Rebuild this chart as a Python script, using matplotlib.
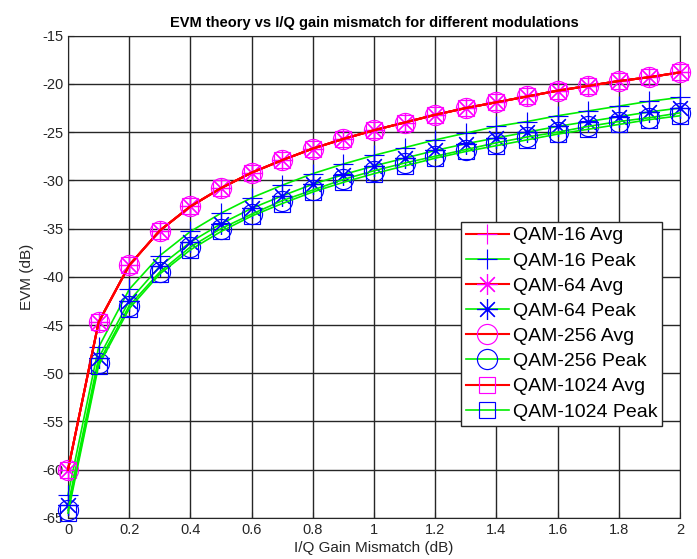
import matplotlib.pyplot as plt

# I/Q gain mismatch (dB)
mismatch = [0.0, 0.1, 0.2, 0.3, 0.4, 0.5, 0.6, 0.7, 0.8, 0.9, 1.0,
            1.1, 1.2, 1.3, 1.4, 1.5, 1.6, 1.7, 1.8, 1.9, 2.0]

# average EVM is the same for every QAM order
evm_avg = [-60.0, -44.7, -38.8, -35.2, -32.7, -30.8, -29.2, -27.9, -26.7, -25.7, -24.8,
           -24.0, -23.2, -22.5, -21.9, -21.3, -20.7, -20.2, -19.7, -19.3, -18.8]

evm_peak_16 = [-62.6, -47.3, -41.3, -37.8, -35.3, -33.4, -31.8, -30.5, -29.3, -28.3, -27.4,
               -26.6, -25.8, -25.1, -24.4, -23.9, -23.3, -22.8, -22.3, -21.8, -21.4]
evm_peak_64 = [-63.7, -48.4, -42.5, -38.9, -36.4, -34.5, -32.9, -31.6, -30.4, -29.4, -28.5,
               -27.7, -26.9, -26.2, -25.6, -25.0, -24.4, -23.9, -23.4, -22.9, -22.5]
evm_peak_256 = [-64.2, -48.9, -43.0, -39.5, -36.9, -35.0, -33.5, -32.1, -31.0, -29.9, -29.0,
                -28.2, -27.5, -26.8, -26.1, -25.5, -25.0, -24.4, -23.9, -23.5, -23.0]
evm_peak_1024 = [-64.5, -49.2, -43.3, -39.7, -37.2, -35.3, -33.7, -32.4, -31.2, -30.2, -29.3,
                 -28.5, -27.7, -27.0, -26.4, -25.8, -25.2, -24.7, -24.2, -23.7, -23.3]

ASTERISK = (8, 2, 0)  # matlab style '*' (plus + cross)

series = [
    ("QAM-16 Avg", evm_avg, "+", "avg"),
    ("QAM-16 Peak", evm_peak_16, "+", "peak"),
    ("QAM-64 Avg", evm_avg, ASTERISK, "avg"),
    ("QAM-64 Peak", evm_peak_64, ASTERISK, "peak"),
    ("QAM-256 Avg", evm_avg, "o", "avg"),
    ("QAM-256 Peak", evm_peak_256, "o", "peak"),
    ("QAM-1024 Avg", evm_avg, "s", "avg"),
    ("QAM-1024 Peak", evm_peak_1024, "s", "peak"),
]
marker_sizes = {"+": 15, "o": 14.5, "s": 12}

x_ticks = [0, 0.2, 0.4, 0.6, 0.8, 1.0, 1.2, 1.4, 1.6, 1.8, 2.0]
x_tick_labels = ["0", "0.2", "0.4", "0.6", "0.8", "1", "1.2", "1.4", "1.6", "1.8", "2"]
y_ticks = [-65, -60, -55, -50, -45, -40, -35, -30, -25, -20, -15]

plt.rcParams['font.family'] = ['Liberation Sans', 'DejaVu Sans']
plt.rcParams['axes.unicode_minus'] = False

fig = plt.figure(figsize=(6.97, 5.59), dpi=100)
ax = fig.add_axes([0.0976, 0.0735, 0.878, 0.8626])

for label, vals, marker, kind in series:
    if kind == "avg":
        line_color, mark_color, lw = "#ff0000", "#ff00ff", 1.5
    else:
        line_color, mark_color, lw = "#00ee00", "#0000ff", 1.2
    ms = marker_sizes.get(marker, 15)
    ax.plot(mismatch, vals, color=line_color, linewidth=lw, marker=marker,
            markersize=ms, markeredgecolor=mark_color, markerfacecolor="none",
            markeredgewidth=0.85, label=label, clip_on=False, zorder=3)

ax.set_xlim(0, 2)
ax.set_ylim(-65, -15)
ax.set_xticks(x_ticks)
ax.set_xticklabels(x_tick_labels)
ax.set_yticks(y_ticks)
ax.tick_params(direction="in", labelsize=10.5, length=4, colors="#262626",
               labelcolor="#262626")
ax.grid(True, color="#262626", linewidth=1.0)
ax.set_axisbelow(True)
for sp in ax.spines.values():
    sp.set_color("#262626")

ax.set_title("EVM theory vs I/Q gain mismatch for different modulations",
             fontsize=10.5, fontweight="bold", pad=6)
ax.set_xlabel("I/Q Gain Mismatch (dB)", fontsize=11, labelpad=3, color="#262626")
ax.set_ylabel("EVM (dB)", fontsize=11, labelpad=6, color="#262626")

leg = ax.legend(loc="upper right", bbox_to_anchor=(0.971, 0.614), fontsize=14,
                fancybox=False, framealpha=1, edgecolor="#262626",
                handlelength=2.2, borderpad=0.25, labelspacing=0.39,
                handletextpad=0.2, borderaxespad=0)
leg.get_frame().set_linewidth(1.0)

fig.savefig("out.png", dpi=100)
